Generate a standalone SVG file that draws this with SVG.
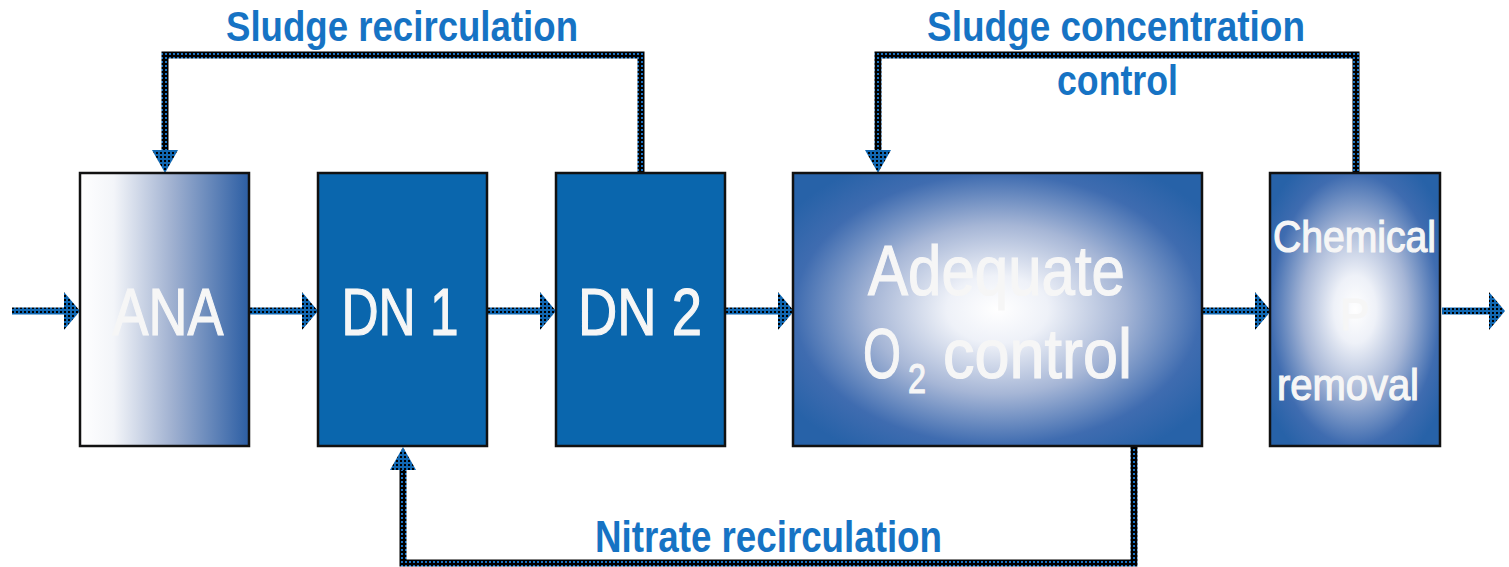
<svg xmlns="http://www.w3.org/2000/svg" width="1509" height="567" viewBox="0 0 1509 567">
<defs>
<style>
.box{stroke:#111;stroke-width:2.5}
.lbl{font-family:"Liberation Sans",Arial,sans-serif;fill:#1673c4;font-weight:bold}
.bt{font-family:"Liberation Sans",Arial,sans-serif;fill:#f6f6f6;stroke:#f6f6f6;stroke-width:1.2}
.arr{fill:url(#dotsA)}
.loop{fill:none;stroke:url(#dotsB);stroke-width:7}
</style>
<pattern id="dotsA" width="4" height="4" patternUnits="userSpaceOnUse">
<rect width="4" height="4" fill="#1167b1"/><rect width="2" height="2" fill="#000"/>
</pattern>
<pattern id="dotsB" width="4" height="4" patternUnits="userSpaceOnUse">
<rect width="4" height="4" fill="#000"/><rect x="1" y="1" width="2" height="2" fill="#1a72c2"/>
</pattern>
<linearGradient id="gAna" x1="0" y1="0" x2="1" y2="0">
<stop offset="0" stop-color="#ffffff"/>
<stop offset="0.2" stop-color="#f3f5f9"/>
<stop offset="0.55" stop-color="#9fb0d0"/>
<stop offset="1" stop-color="#2c5ea4"/>
</linearGradient>
<radialGradient id="gRect" cx="0.5" cy="0.5" r="0.62">
<stop offset="0" stop-color="#ffffff"/>
<stop offset="0.2" stop-color="#eef1f8"/>
<stop offset="0.5" stop-color="#a6b6d6"/>
<stop offset="0.8" stop-color="#3f6cb0"/>
<stop offset="1" stop-color="#2762a8"/>
</radialGradient>
<polygon id="harrow" points="0,-3.5 52,-3.5 52,-19 68,0 52,19 52,3.5 0,3.5"/>
</defs>
<rect width="1509" height="567" fill="#fff"/>

<g id="connectors">
<use href="#harrow" class="arr" transform="translate(12,311)"/>
<use href="#harrow" class="arr" transform="translate(250,311)"/>
<use href="#harrow" class="arr" transform="translate(488,311)"/>
<use href="#harrow" class="arr" transform="translate(726,311)"/>
<use href="#harrow" class="arr" transform="translate(1203,311)"/>
<polygon class="arr" points="1442,307.5 1489,307.5 1489,292 1505,311 1489,330 1489,314.5 1442,314.5"/>
<polyline class="loop" points="641,173 641,55 165,55 165,150"/>
<polygon class="arr" points="152,150 178,150 165,173"/>
<polyline class="loop" points="1356,173 1356,55 878,55 878,150"/>
<polygon class="arr" points="865,150 891,150 878,173"/>
<polyline class="loop" points="1134,446 1134,563 403,563 403,470"/>
<polygon class="arr" points="390,470 416,470 403,447"/>
</g>

<g id="ana">
<rect class="box" x="80" y="173" width="169" height="273" fill="url(#gAna)"/>
<text class="bt" x="168" y="335" font-size="66" text-anchor="middle" textLength="111" lengthAdjust="spacingAndGlyphs">ANA</text>
</g>
<g id="dn1">
<rect class="box" x="318" y="173" width="169" height="273" fill="#0a66ad"/>
<text class="bt" x="400" y="335" font-size="66" text-anchor="middle" textLength="117" lengthAdjust="spacingAndGlyphs">DN 1</text>
</g>
<g id="dn2">
<rect class="box" x="556" y="173" width="169" height="273" fill="#0a66ad"/>
<text class="bt" x="640" y="335" font-size="66" text-anchor="middle" textLength="124" lengthAdjust="spacingAndGlyphs">DN 2</text>
</g>
<g id="o2">
<rect class="box" x="793" y="173" width="409" height="273" fill="url(#gRect)"/>
<text class="bt" x="868" y="295" font-size="70" textLength="257" lengthAdjust="spacingAndGlyphs">Adequate</text>
<text class="bt" font-size="70"><tspan x="863" y="378" textLength="38" lengthAdjust="spacingAndGlyphs">O</tspan><tspan x="908" y="393" font-size="42" textLength="18" lengthAdjust="spacingAndGlyphs">2</tspan><tspan x="943" y="378" textLength="189" lengthAdjust="spacingAndGlyphs">control</tspan></text>
</g>
<g id="chem">
<rect class="box" x="1270" y="173" width="170" height="273" fill="url(#gRect)"/>
<text class="bt" x="1273" y="252" font-size="44" textLength="163" lengthAdjust="spacingAndGlyphs">Chemical</text>
<text class="bt" x="1355" y="330" font-size="44" text-anchor="middle">P</text>
<text class="bt" x="1277" y="400" font-size="44" textLength="142" lengthAdjust="spacingAndGlyphs">removal</text>
</g>

<g id="labels">
<text class="lbl" x="226" y="41" font-size="43" textLength="352" lengthAdjust="spacingAndGlyphs">Sludge recirculation</text>
<text class="lbl" x="927" y="41" font-size="43" textLength="378" lengthAdjust="spacingAndGlyphs">Sludge concentration</text>
<text class="lbl" x="1057" y="95" font-size="43" textLength="121" lengthAdjust="spacingAndGlyphs">control</text>
<text class="lbl" x="595" y="552" font-size="45" textLength="347" lengthAdjust="spacingAndGlyphs">Nitrate recirculation</text>
</g>
</svg>
